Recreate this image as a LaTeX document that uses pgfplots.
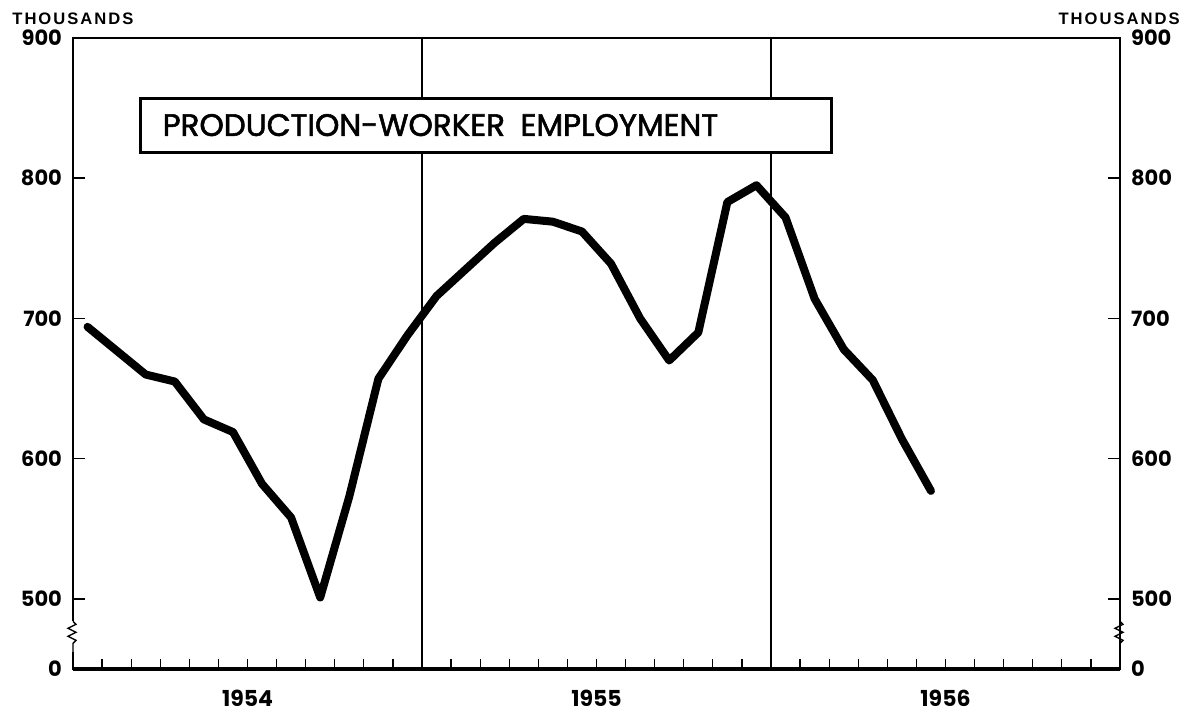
\documentclass[border=0pt]{standalone}
\usepackage{pgfplots}
\pgfplotsset{compat=1.18}
\usepackage{fontspec}
\setmainfont{Poppins}
\newfontfamily\titlefont[FakeBold=1.8]{Poppins}
\newfontfamily\thfont[LetterSpace=12]{Liberation Sans}
\pgfplotstableread{
x y
0.5 694
1.5 677
2.5 660
3.5 655
4.5 628
5.5 619
6.5 582
7.5 558
8.5 501
9.5 573
10.5 657
11.5 688
12.5 716
13.5 735
14.5 754
15.5 771
16.5 769
17.5 762
18.5 739
19.5 700
20.5 670
21.5 690
22.5 783
23.5 795
24.5 772
25.5 714
26.5 678
27.5 656
28.5 614
29.5 577
}\datatable
\begin{document}
\begin{tikzpicture}
\useasboundingbox (-36.5pt,-21.5pt) rectangle (556.5pt,334.5pt);
\begin{axis}[
  at={(0,0)}, anchor=south west,
  scale only axis, width=523.5pt, height=315.5pt,
  xmin=0, xmax=36, ymin=450, ymax=900,
  axis line style={black, line width=0.9pt},
  xtick={6,18,30}, xticklabels={1954,1955,1956},
  minor xtick={1,2,3,4,5,6,7,8,9,10,11,13,14,15,16,17,18,19,20,21,22,23,25,26,27,28,29,30,31,32,33,34,35},
  major x tick style={draw=none},
  minor tick length=5pt,
  minor x tick style={black, line width=0.6pt},
  xtick pos=bottom,
  ytick={450,500,600,700,800,900},
  yticklabels={0,500,600,700,800,\raisebox{-5.5pt}{900}},
  ytick pos=left,
  major tick length=6pt,
  y tick style={black, line width=0.8pt},
  tick align=inside,
  ticklabel style={font=\bfseries\fontsize{10.5}{12}\selectfont},
  /pgf/number format/assume math mode=true,
  xticklabel style={yshift=-7pt, font=\bfseries\fontsize{11}{12}\selectfont},
  yticklabel style={xshift=-2pt},
  extra x ticks={12,24},
  extra x tick labels={},
  extra x tick style={grid=major, major grid style={black, line width=0.6pt}, major tick length=0pt},
  clip=false,
]
\draw[black, line width=2.2pt] (axis cs:0,450) -- (axis cs:36,450);
\addplot[black, line width=4pt, line join=round, line cap=round] table[x=x,y=y] {\datatable};
\draw[black, line width=1.4pt, fill=white] (axis cs:2.31,857) rectangle (axis cs:26.08,818.6);
\node[anchor=west, font=\titlefont\fontsize{15.5}{18}\selectfont, inner sep=0pt] at (axis cs:3.07,837.9) {PRODUCTION-WORKER\hspace{0.5em}EMPLOYMENT};
% axis breaks
\draw[white, line width=3pt] (axis cs:0,462) -- (axis cs:0,484);
\draw[black, line width=0.7pt] (axis cs:0,484) -- ++(1.5pt,-1.5pt) -- ++(-4pt,-2pt) -- ++(4pt,-2pt) -- ++(-4pt,-2pt) -- ++(4pt,-2pt) -- ++(-1.5pt,-1.5pt) -- (axis cs:0,462);
\draw[white, line width=3pt] (axis cs:36,462) -- (axis cs:36,484);
\draw[black, line width=0.7pt] (axis cs:36,484) -- ++(1.5pt,-1.5pt) -- ++(-4pt,-2pt) -- ++(4pt,-2pt) -- ++(-4pt,-2pt) -- ++(4pt,-2pt) -- ++(-1.5pt,-1.5pt) -- (axis cs:36,462);
\end{axis}
\begin{axis}[
  at={(0,0)}, anchor=south west,
  scale only axis, width=523.5pt, height=315.5pt,
  xmin=0, xmax=36, ymin=450, ymax=900,
  axis x line=none, axis y line*=right,
  axis line style={black, line width=0.9pt},
  ytick={450,500,600,700,800,900},
  yticklabels={0,500,600,700,800,\raisebox{-5.5pt}{900}},
  major tick length=6pt,
  y tick style={black, line width=0.8pt},
  tick align=inside,
  ticklabel style={font=\bfseries\fontsize{10.5}{12}\selectfont},
  /pgf/number format/assume math mode=true,
  yticklabel style={xshift=2pt},
]
\addplot[draw=none] coordinates {(0,450)};
\end{axis}
\node[anchor=west, font=\thfont\bfseries\fontsize{8.3}{9}\selectfont, inner sep=0pt] at (-30.5pt,325pt) {THOUSANDS};
\node[anchor=east, font=\thfont\bfseries\fontsize{8.3}{9}\selectfont, inner sep=0pt] at (553.5pt,325pt) {THOUSANDS};
\end{tikzpicture}
\end{document}
